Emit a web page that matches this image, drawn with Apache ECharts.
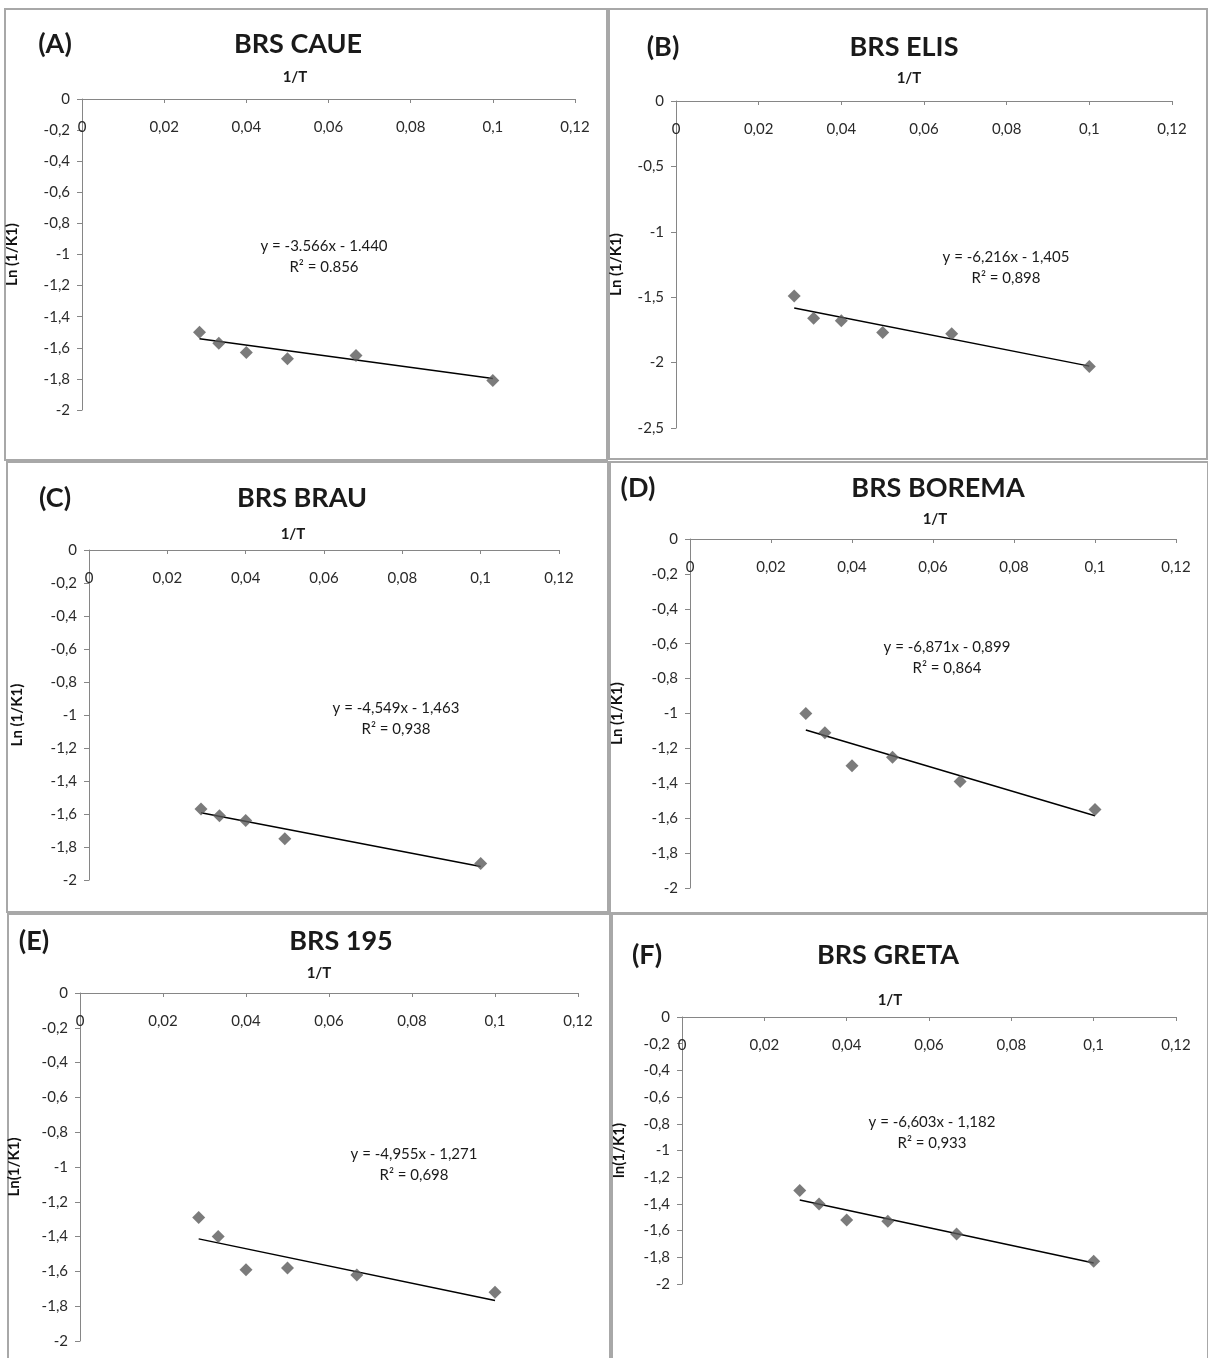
<!DOCTYPE html>
<html>
<head>
<meta charset="utf-8">
<title>Ln(1/K1) x 1/T</title>
<script src="https://cdn.jsdelivr.net/npm/echarts@6/dist/echarts.min.js"></script>
<style>
  body { margin: 0; background: #fff; }
  #main { width: 1208px; height: 1358px; }
</style>
</head>
<body>
<div id="main"></div>
<script>
// 1/T for T = 35, 30, 25, 20, 15, 10
const invT = [0.0286, 0.0333, 0.04, 0.05, 0.0667, 0.1]
const invTC = [0.0286, 0.0333, 0.04, 0.05, 0.1]   // BRAU has no 0.0667 point
const trendX = [0.0286, 0.1]

const lnA = [-1.50, -1.57, -1.63, -1.67, -1.65, -1.81]
const lnB = [-1.49, -1.66, -1.68, -1.77, -1.78, -2.03]
const lnC = [-1.57, -1.61, -1.64, -1.75, -1.90]
const lnD = [-1.00, -1.11, -1.30, -1.25, -1.39, -1.55]
const lnE = [-1.29, -1.40, -1.59, -1.58, -1.62, -1.72]
const lnF = [-1.30, -1.40, -1.52, -1.53, -1.625, -1.83]

// trend line ends (from the printed equations)
const trendA = [-1.542, -1.797]
const trendB = [-1.583, -2.027]
const trendC = [-1.593, -1.918]
const trendD = [-1.095, -1.586]
const trendE = [-1.413, -1.767]
const trendF = [-1.371, -1.842]

const letters = ['(A)', '(B)', '(C)', '(D)', '(E)', '(F)']
const names = ['BRS CAUE', 'BRS ELIS', 'BRS BRAU', 'BRS BOREMA', 'BRS 195', 'BRS GRETA']
const yNames = ['Ln (1/K1)', 'Ln (1/K1)', 'Ln (1/K1)', 'Ln (1/K1)', 'Ln(1/K1)', 'ln(1/K1)']
const equations = ['y = -3.566x - 1.440', 'y = -6,216x - 1,405', 'y = -4,549x - 1,463',
  'y = -6,871x - 0,899', 'y = -4,955x - 1,271', 'y = -6,603x - 1,182']
const r2 = ['R² = 0.856', 'R² = 0,898', 'R² = 0,938', 'R² = 0,864', 'R² = 0,698', 'R² = 0,933']
const yMin = [-2, -2.5, -2, -2, -2, -2]
const yStep = [0.2, 0.5, 0.2, 0.2, 0.2, 0.2]

const xs = [invT, invT, invTC, invT, invT, invT]
const ys = [lnA, lnB, lnC, lnD, lnE, lnF]
const trends = [trendA, trendB, trendC, trendD, trendE, trendF]

// layout of each panel (pixels)
const layout = [
  { frame: [5, 9, 602, 451], grid: [82, 99, 493, 311], letter: [55, 44], title: [298, 44], t: [295, 77], eq: [324, 246], gap: 62 },
  { frame: [609, 9, 598, 450], grid: [676, 101, 496, 327], letter: [663, 47], title: [904, 47], t: [909, 78], eq: [1006, 257], gap: 52 },
  { frame: [7, 462, 601, 450], grid: [89, 550, 470, 330], letter: [55, 498], title: [302, 498], t: [293, 534], eq: [396, 708], gap: 64 },
  { frame: [610, 462, 598, 451], grid: [690, 539, 486, 349], letter: [638, 488], title: [938, 488], t: [935, 519], eq: [947, 647], gap: 65 },
  { frame: [8, 914, 602, 446], grid: [80, 993, 498, 348], letter: [34, 941], title: [341, 941], t: [319, 973], eq: [414, 1154], gap: 58 },
  { frame: [612, 914, 596, 446], grid: [682, 1017, 494, 267], letter: [647, 955], title: [888, 955], t: [890, 1000], eq: [932, 1122], gap: 55 }
]

const comma = v => String(+v.toFixed(4)).replace('.', ',')
const font = 'Lato, "Open Sans", sans-serif'
const axisColor = '#868686'

let grid = [], xAxis = [], yAxis = [], series = [], graphic = []

function text(x, y, s, size, bold) {
  return {
    type: 'text', x: x, y: y, silent: true,
    style: {
      text: s, fill: '#1a1a1a', textAlign: 'center', textVerticalAlign: 'middle',
      font: (bold ? 'bold ' : '') + size + 'px ' + font
    }
  }
}

layout.forEach((p, i) => {
  graphic.push({
    type: 'rect', silent: true,
    shape: { x: p.frame[0], y: p.frame[1], width: p.frame[2], height: p.frame[3] },
    style: { fill: 'none', stroke: '#a8a8a8', lineWidth: 2 }
  })
  graphic.push(text(p.letter[0], p.letter[1], letters[i], 27, true))
  graphic.push(text(p.title[0], p.title[1], names[i], 27, true))
  graphic.push(text(p.t[0], p.t[1], '1/T', 15, true))
  graphic.push(text(p.eq[0], p.eq[1], equations[i], 15, false))
  graphic.push(text(p.eq[0], p.eq[1] + 21, r2[i], 15, false))

  grid.push({ left: p.grid[0], top: p.grid[1], width: p.grid[2], height: p.grid[3] })

  xAxis.push({
    type: 'value', gridIndex: i, position: 'top',
    min: 0, max: 0.12, interval: 0.02,
    axisLine: { onZero: false, lineStyle: { color: axisColor } },
    axisTick: { inside: true, length: 4, lineStyle: { color: axisColor } },
    axisLabel: { inside: true, margin: 21, color: '#2a2a2a', fontSize: 15, fontFamily: font, formatter: comma, showMinLabel: true, showMaxLabel: true },
    splitLine: { show: false }
  })

  yAxis.push({
    type: 'value', gridIndex: i,
    min: yMin[i], max: 0, interval: yStep[i],
    name: yNames[i], nameLocation: 'middle', nameRotate: 90, nameGap: p.gap,
    nameTextStyle: { color: '#111', fontWeight: 'bold', fontSize: 15, fontFamily: font },
    axisLine: { show: true, onZero: false, lineStyle: { color: axisColor } },
    axisTick: { show: true, length: 5, lineStyle: { color: axisColor } },
    axisLabel: { margin: 12, color: '#2a2a2a', fontSize: 15, fontFamily: font, formatter: comma },
    splitLine: { show: false }
  })

  series.push({
    type: 'line', xAxisIndex: i, yAxisIndex: i,
    data: trendX.map((x, k) => [x, trends[i][k]]),
    symbol: 'none', lineStyle: { color: '#000', width: 1.5 }, z: 2
  })
  series.push({
    type: 'scatter', xAxisIndex: i, yAxisIndex: i,
    data: xs[i].map((x, k) => [x, ys[i][k]]),
    symbol: 'diamond', symbolSize: 13,
    itemStyle: { color: '#5a5a5a' }, z: 3
  })
})

let chart = echarts.init(document.getElementById('main'))
chart.setOption({
  animation: false,
  backgroundColor: '#fff',
  grid: grid,
  xAxis: xAxis,
  yAxis: yAxis,
  series: series,
  graphic: graphic
})
</script>
</body>
</html>
